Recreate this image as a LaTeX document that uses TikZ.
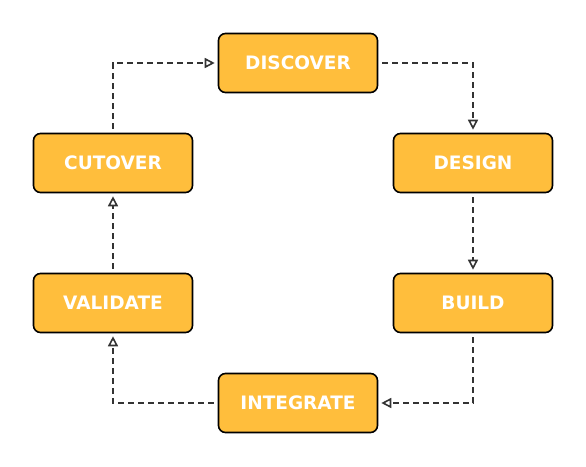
\documentclass[tikz,border=0pt]{standalone}
\usepackage{fontspec}
\setmainfont{DejaVu Sans}
\usetikzlibrary{arrows.meta}
\definecolor{boxfill}{HTML}{FFBE3C}
\definecolor{linegray}{HTML}{333333}
\begin{document}
\begin{tikzpicture}[x=1pt,y=-1pt,
  phase/.style={draw=black, line width=1.6pt, fill=boxfill, rounded corners=7pt,
    minimum width=159pt, minimum height=59pt, inner sep=0pt,
    text=white, font=\fontsize{18.5}{20}\selectfont\bfseries},
  flow/.style={draw=linegray, line width=1.8pt, dash pattern=on 6pt off 4pt,
    -{Triangle[open, length=10pt, width=10pt, line width=1.6pt]}, shorten >=3pt, shorten <=4pt}]
\useasboundingbox (0,0) rectangle (586,466);
\node[phase] (discover) at (298,63) {DISCOVER};
\node[phase] (design) at (473,163) {DESIGN};
\node[phase] (build) at (473,303) {BUILD};
\node[phase] (integrate) at (298,403) {INTEGRATE};
\node[phase] (validate) at (113,303) {VALIDATE};
\node[phase] (cutover) at (113,163) {CUTOVER};
\draw[flow] (discover.east) -| (design.north);
\draw[flow] (design.south) -- (build.north);
\draw[flow] (build.south) |- (integrate.east);
\draw[flow] (integrate.west) -| (validate.south);
\draw[flow] (validate.north) -- (cutover.south);
\draw[flow] (cutover.north) |- (discover.west);
\end{tikzpicture}
\end{document}
